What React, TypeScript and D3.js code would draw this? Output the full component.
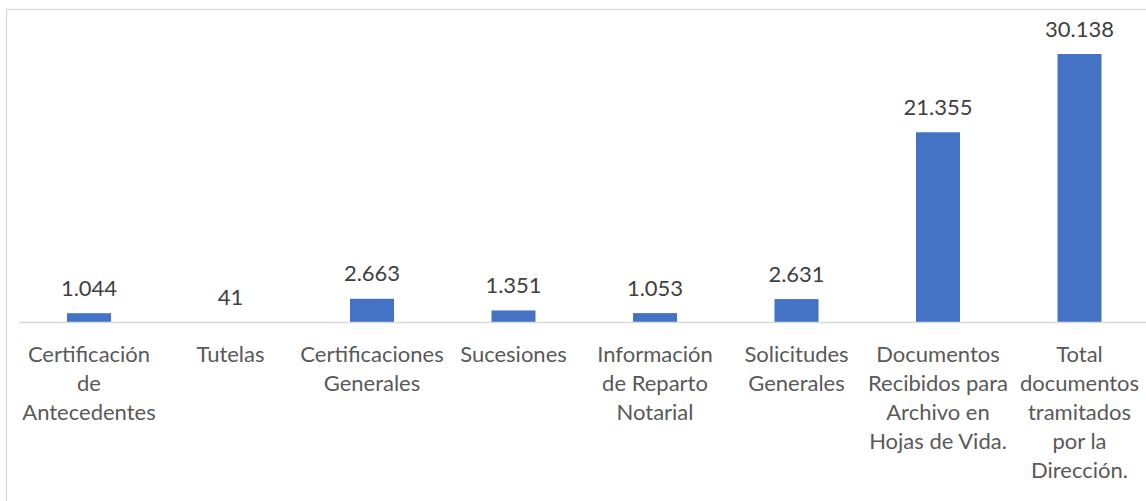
import React from "react";
import * as d3 from "d3";

const categories: string[][] = [
  ["Certificación", "de", "Antecedentes"],
  ["Tutelas"],
  ["Certificaciones", "Generales"],
  ["Sucesiones"],
  ["Información", "de Reparto", "Notarial"],
  ["Solicitudes", "Generales"],
  ["Documentos", "Recibidos para", "Archivo en", "Hojas de Vida."],
  ["Total", "documentos", "tramitados", "por la", "Dirección."],
];
const values: number[] = [1044, 41, 2663, 1351, 1053, 2631, 21355, 30138];
const yMax = 35000;

const W = 1146;
const H = 501;
const FONT = "Lato, 'Open Sans', sans-serif";
const FS = 22;

export default function App() {
  const keys = categories.map((c) => c.join(" "));
  const step = 141.5;
  const p = 1 - 44 / step;
  const x = d3
    .scaleBand<string>()
    .domain(keys)
    .range([18.25, 18.25 + step * keys.length])
    .paddingInner(p)
    .paddingOuter(p / 2);
  const y = d3.scaleLinear().domain([0, yMax]).range([322.5, 10.7]);
  const loc = d3.formatLocale({ decimal: ",", thousands: ".", grouping: [3], currency: ["$", ""] });
  const fmt = loc.format(",d");
  const bw = x.bandwidth();

  return (
    <svg width={W} height={H} style={{ position: "absolute", left: 0, top: 0, background: "#fff" }}>
      <rect x={6.5} y={9.5} width={W + 20} height={H + 20} fill="#fff" stroke="#d9d9d9" strokeWidth={1.3} />
      {values.map((v, i) => (
        <rect key={i} x={x(keys[i])!} y={y(v)} width={bw} height={y(0) - y(v)} fill="#4472C4" />
      ))}
      <line x1={19} x2={W} y1={y(0)} y2={y(0)} stroke="#d9d9d9" strokeWidth={1.3} />
      {values.map((v, i) => (
        <text
          key={"v" + i}
          x={x(keys[i])! + bw / 2}
          y={y(v) - 17.5}
          textAnchor="middle"
          fontFamily={FONT}
          fontSize={FS}
          fill="#404040"
        >
          {fmt(v)}
        </text>
      ))}
      {categories.map((lines, i) => (
        <text
          key={"c" + i}
          textAnchor="middle"
          fontFamily={FONT}
          fontSize={FS}
          fill="#595959"
        >
          {lines.map((l, j) => (
            <tspan key={j} x={x(keys[i])! + bw / 2} y={362 + j * 29}>
              {l}
            </tspan>
          ))}
        </text>
      ))}
    </svg>
  );
}
